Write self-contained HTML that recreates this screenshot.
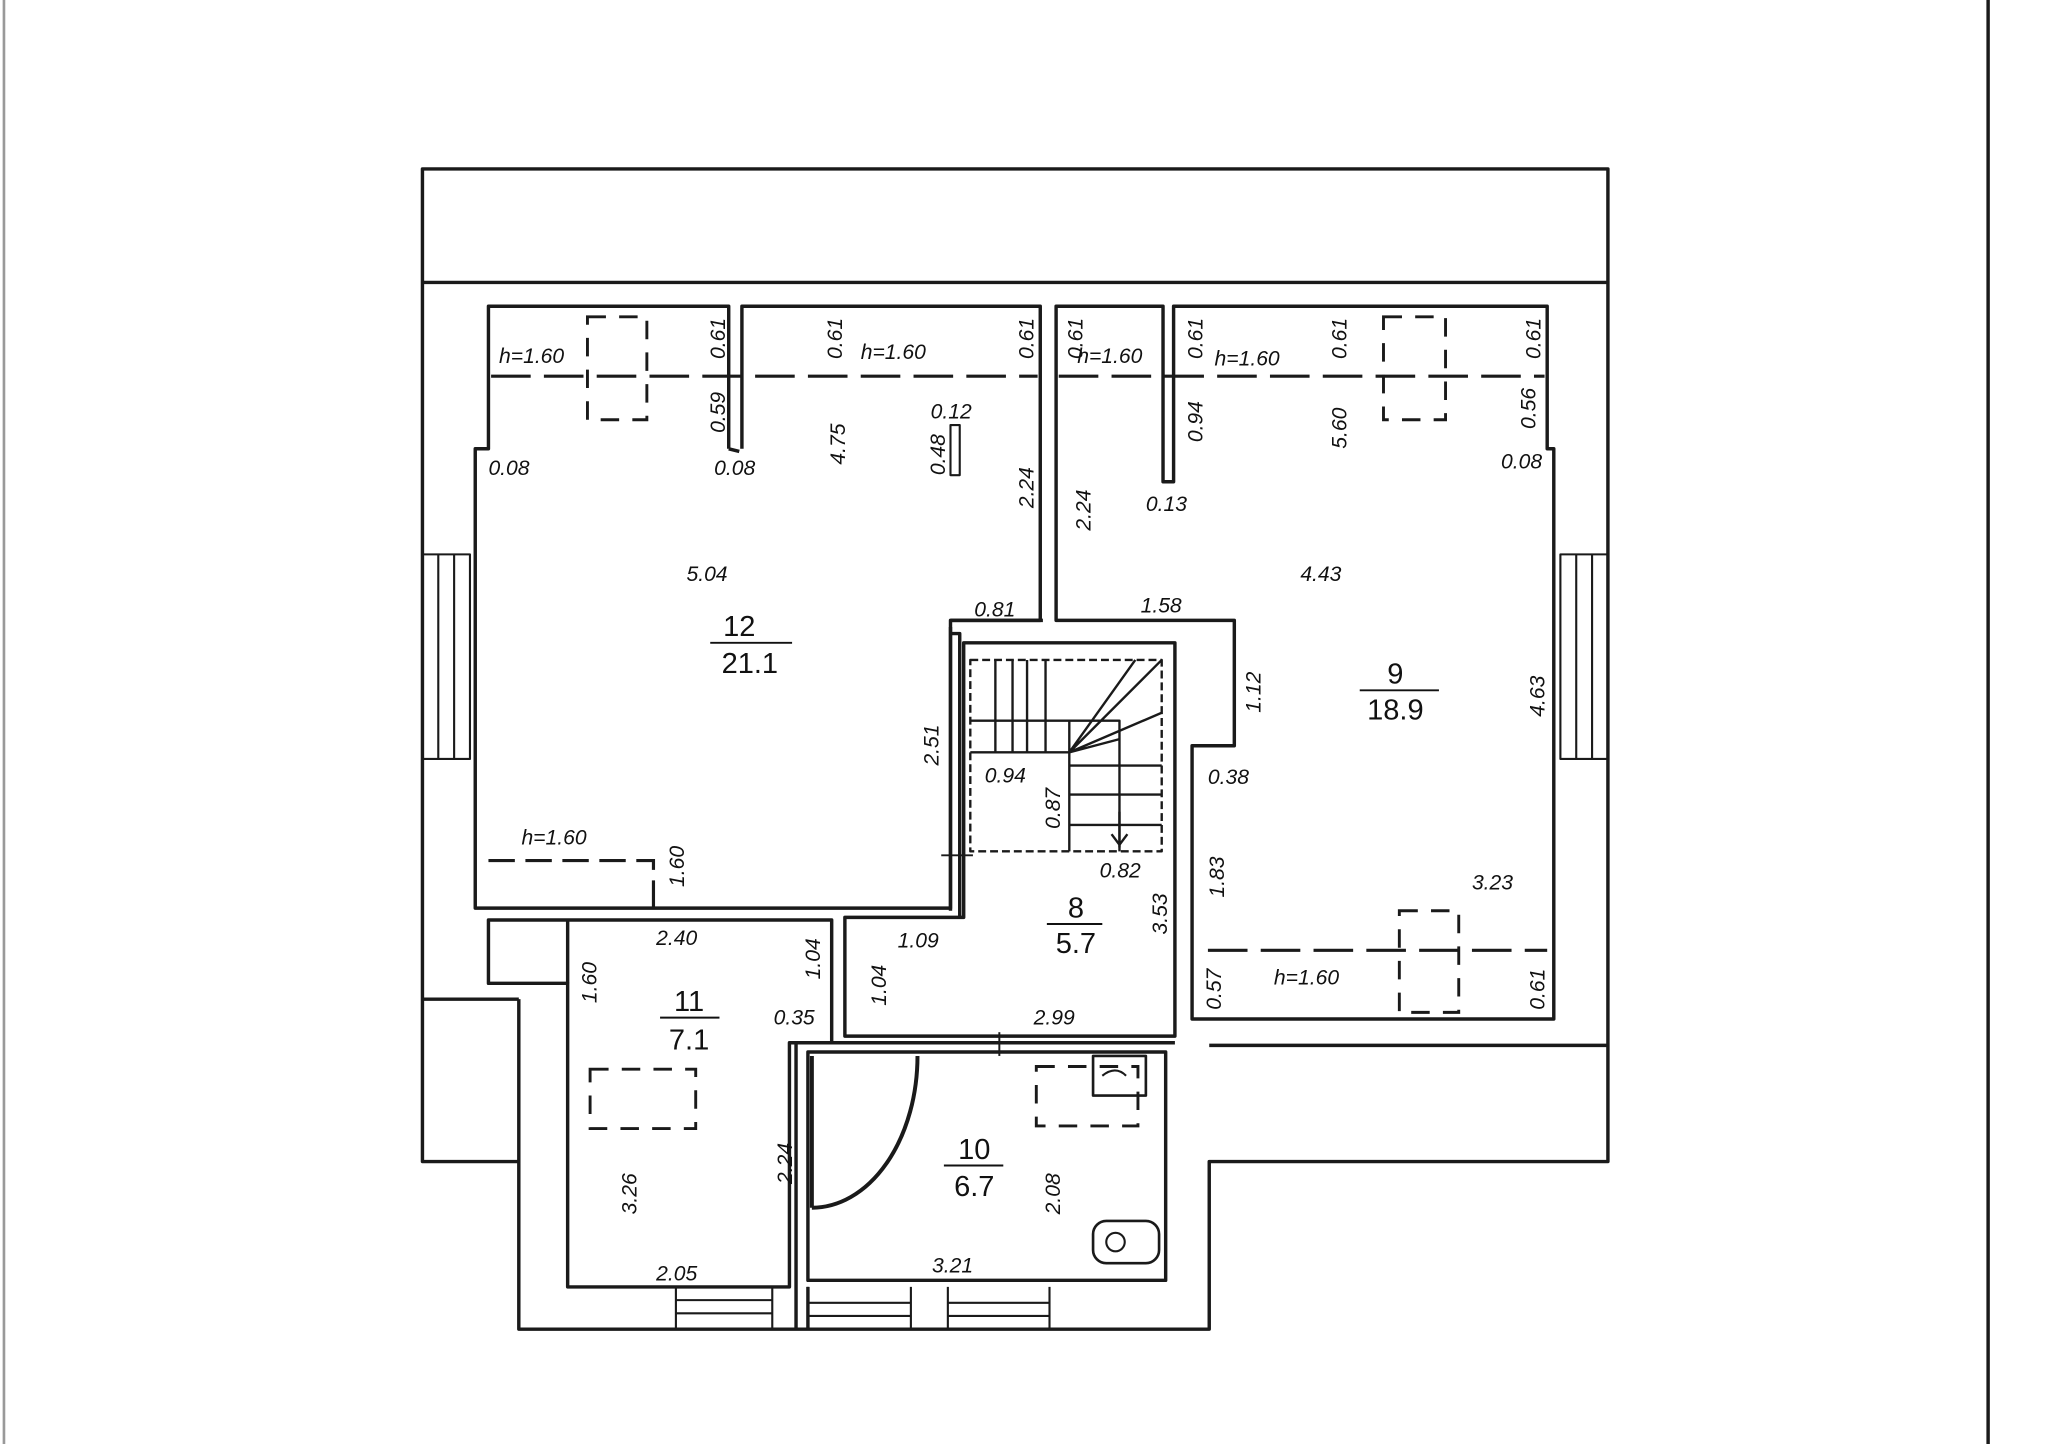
<!DOCTYPE html>
<html><head><meta charset="utf-8"><style>
html,body{margin:0;padding:0;background:#fff;}
svg{display:block;}
text{font-family:"Liberation Sans",sans-serif;fill:#111;font-style:italic;}
.num text{font-style:normal;}
</style></head><body>
<svg width="2066" height="1444" viewBox="0 0 1565 1094" preserveAspectRatio="none" xmlns="http://www.w3.org/2000/svg">
<rect width="1565" height="1094" fill="#fff"/>
<g stroke="#1a1a1a" stroke-width="2.6" fill="none" stroke-linejoin="round">
<line x1="3" y1="0" x2="3" y2="1094" stroke="#999" stroke-width="2"/>
<line x1="1506" y1="0" x2="1506" y2="1094"/>
<path d="M320 880 V128 H1218 V880 H916 V1007 H393 V880 Z"/>
<line x1="320" y1="214" x2="1218" y2="214"/>
<line x1="320" y1="757" x2="393" y2="757"/>
<line x1="393" y1="757" x2="393" y2="880"/>
<line x1="916" y1="792" x2="1218" y2="792"/>
<path d="M320 420 H356 V575 H320 M332 420 V575 M344 420 V575" stroke-width="1.6"/>
<path d="M1218 420 H1182 V575 H1218 M1194 420 V575 M1206 420 V575" stroke-width="1.6"/>
<path d="M552 340 V232 H370 V340 H360 V688 H720 V470 H788 V232 H562 V340"/>
<path d="M552 340 L560 342"/>
<path d="M720 470 H790"/>
<path d="M720 690 V475"/>
<line x1="713" y1="648" x2="737" y2="648" stroke-width="1.5"/>
<rect x="720" y="322" width="7" height="38" stroke-width="1.6"/>
<path d="M800 470 V232 H881 V365 H889 V232 H1172 V340 H1177 V772 H903 V565 H935 V470 Z"/>
<path d="M730 487 H890 V785 H640 V695 H730 Z"/>
<path d="M720 480 H727 V695"/>
<g stroke-width="1.8">
<rect x="735" y="500" width="145" height="145" stroke-dasharray="6 3"/>
<path d="M735 546 H848 V645 M810 546 V645 M735 570 H810 M810 580 H880 M810 602 H880 M810 625 H880"/>
<path d="M767 500 V570 M792 500 V570 M754 500 V570 M778 500 V570"/>
<path d="M810 570 L880 500 M810 570 L860 500 M810 570 L880 540 M810 570 L848 560"/>
<path d="M848 615 V642 M842 632 L848 640 L854 632"/>
</g>
<path d="M370 697 H630 V790 H598 V975 H430 V745 H370 Z"/>
<path d="M430 697 V745"/>
<path d="M612 797 H883 V970 H612 Z"/>
<path d="M603 790 H890"/>
<path d="M603 790 V1007 M612 975 V1007"/>
<line x1="757" y1="782" x2="757" y2="800" stroke-width="1.5"/>
<path d="M695 800 A80 115 0 0 1 615 915" stroke-width="3"/>
<line x1="615" y1="800" x2="615" y2="915" stroke-width="3"/>
<rect x="828" y="800" width="40" height="30" stroke-width="2"/>
<path d="M835 815 q10 -8 18 0" stroke-width="1.6"/>
<rect x="828" y="925" width="50" height="32" rx="10" stroke-width="2"/>
<circle cx="845" cy="941" r="7" stroke-width="1.6"/>
<path d="M512 975 V1007 M585 975 V1007 M512 985 H585 M512 995 H585" stroke-width="1.6"/>
<path d="M612 975 V1007 M690 975 V1007 M718 975 V1007 M795 975 V1007 M612 987 H690 M612 997 H690 M718 987 H795 M718 997 H795" stroke-width="1.6"/>
</g>
<g stroke="#1a1a1a" stroke-width="2.4" fill="none" stroke-dasharray="30 10">
<line x1="372" y1="285" x2="786" y2="285"/>
<line x1="802" y1="285" x2="1170" y2="285"/>
<line x1="915" y1="720" x2="1172" y2="720"/>
<path d="M370 652 H495 V688" stroke-dasharray="20 8"/>
<line x1="881" y1="232" x2="881" y2="365" stroke-dasharray="8 4" stroke-width="1.5"/>
</g>
<g stroke="#1a1a1a" stroke-width="2.2" fill="none" stroke-dasharray="14 10">
<rect x="445" y="240" width="45" height="78"/>
<rect x="1048" y="240" width="47" height="78"/>
<rect x="1060" y="690" width="45" height="77"/>
<rect x="447" y="810" width="80" height="45"/>
<rect x="785" y="808" width="77" height="45"/>
</g>
<g font-size="16">
<text x="378" y="275">h=1.60</text>
<text x="652" y="272">h=1.60</text>
<text x="816" y="275">h=1.60</text>
<text x="920" y="277">h=1.60</text>
<text x="395" y="640">h=1.60</text>
<text x="965" y="746">h=1.60</text>
<text x="370" y="360">0.08</text>
<text x="541" y="360">0.08</text>
<text x="1137" y="355">0.08</text>
<text x="868" y="387">0.13</text>
<text x="705" y="317">0.12</text>
<text x="520" y="440">5.04</text>
<text x="985" y="440">4.43</text>
<text x="738" y="467">0.81</text>
<text x="864" y="464">1.58</text>
<text x="746" y="593">0.94</text>
<text x="915" y="594">0.38</text>
<text x="833" y="665">0.82</text>
<text x="1115" y="674">3.23</text>
<text x="497" y="716">2.40</text>
<text x="680" y="718">1.09</text>
<text x="586" y="776">0.35</text>
<text x="783" y="776">2.99</text>
<text x="497" y="970">2.05</text>
<text x="706" y="964">3.21</text>
</g>
<g font-size="16">
<text transform="translate(549,272) rotate(-90)">0.61</text>
<text transform="translate(549,328) rotate(-90)">0.59</text>
<text transform="translate(638,272) rotate(-90)">0.61</text>
<text transform="translate(783,272) rotate(-90)">0.61</text>
<text transform="translate(820,272) rotate(-90)">0.61</text>
<text transform="translate(911,272) rotate(-90)">0.61</text>
<text transform="translate(1020,272) rotate(-90)">0.61</text>
<text transform="translate(1167,272) rotate(-90)">0.61</text>
<text transform="translate(911,335) rotate(-90)">0.94</text>
<text transform="translate(1020,340) rotate(-90)">5.60</text>
<text transform="translate(1163,325) rotate(-90)">0.56</text>
<text transform="translate(640,352) rotate(-90)">4.75</text>
<text transform="translate(716,360) rotate(-90)">0.48</text>
<text transform="translate(783,385) rotate(-90)">2.24</text>
<text transform="translate(826,402) rotate(-90)">2.24</text>
<text transform="translate(955,540) rotate(-90)">1.12</text>
<text transform="translate(1170,543) rotate(-90)">4.63</text>
<text transform="translate(711,580) rotate(-90)">2.51</text>
<text transform="translate(803,628) rotate(-90)">0.87</text>
<text transform="translate(927,680) rotate(-90)">1.83</text>
<text transform="translate(884,708) rotate(-90)">3.53</text>
<text transform="translate(518,672) rotate(-90)">1.60</text>
<text transform="translate(452,760) rotate(-90)">1.60</text>
<text transform="translate(621,742) rotate(-90)">1.04</text>
<text transform="translate(671,762) rotate(-90)">1.04</text>
<text transform="translate(925,765) rotate(-90)">0.57</text>
<text transform="translate(1170,765) rotate(-90)">0.61</text>
<text transform="translate(600,897) rotate(-90)">2.24</text>
<text transform="translate(482,920) rotate(-90)">3.26</text>
<text transform="translate(803,920) rotate(-90)">2.08</text>
</g>
<g font-size="22" class="num">
<text x="560" y="482" text-anchor="middle">12</text><line x1="538" y1="487" x2="600" y2="487" stroke="#111" stroke-width="1.5"/><text x="568" y="510" text-anchor="middle">21.1</text>
<text x="1057" y="518" text-anchor="middle">9</text><line x1="1030" y1="523" x2="1090" y2="523" stroke="#111" stroke-width="1.5"/><text x="1057" y="545" text-anchor="middle">18.9</text>
<text x="815" y="695" text-anchor="middle">8</text><line x1="793" y1="700" x2="835" y2="700" stroke="#111" stroke-width="1.5"/><text x="815" y="722" text-anchor="middle">5.7</text>
<text x="522" y="766" text-anchor="middle">11</text><line x1="500" y1="771" x2="545" y2="771" stroke="#111" stroke-width="1.5"/><text x="522" y="795" text-anchor="middle">7.1</text>
<text x="738" y="878" text-anchor="middle">10</text><line x1="715" y1="883" x2="760" y2="883" stroke="#111" stroke-width="1.5"/><text x="738" y="906" text-anchor="middle">6.7</text>
</g>
</svg>
</body></html>
